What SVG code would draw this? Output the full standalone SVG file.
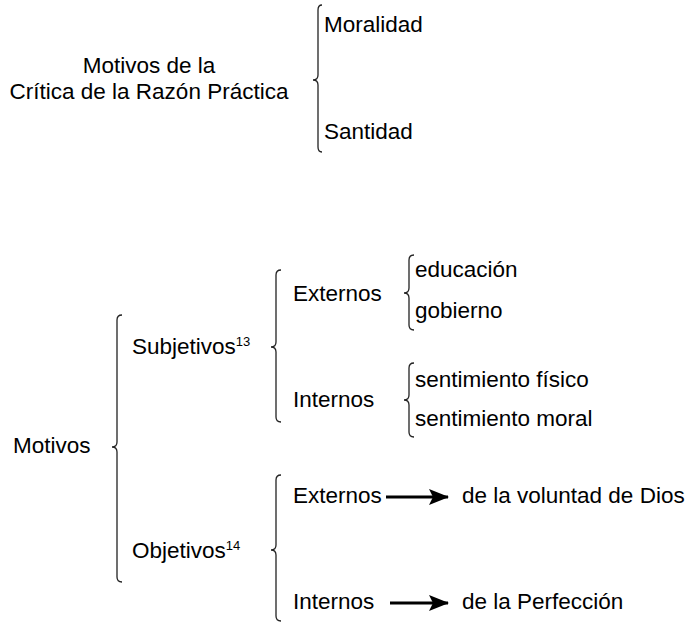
<svg xmlns="http://www.w3.org/2000/svg" width="687" height="625" viewBox="0 0 687 625">
<defs>
<style>
text{font-family:"Liberation Sans",Arial,sans-serif;font-size:22.5px;fill:#000}
.sup{font-size:13px}
.brace{fill:none;stroke:#222;stroke-width:1.3}
.arrow{stroke:#000;stroke-width:3;fill:none}
</style>
<marker id="ah" markerWidth="20" markerHeight="16" refX="19" refY="8" orient="auto" markerUnits="userSpaceOnUse">
<path d="M0,0 L20,8 L0,16 L4,8 Z" fill="#000"/>
</marker>
</defs>
<rect width="687" height="625" fill="#fff"/>
<g id="braces">
<path class="brace" d="M322,5 Q318,5 318,10 L318,75 Q318,80 313,80 Q318,80 318,85 L318,147 Q318,152 322,152"/>
<path class="brace" d="M122,315 Q117,315 117,320 L117,442 Q117,447 112,447 Q117,447 117,452 L117,577 Q117,582 122,582"/>
<path class="brace" d="M281,270 Q276,270 276,275 L276,342 Q276,347 271,347 Q276,347 276,352 L276,417 Q276,422 281,422"/>
<path class="brace" d="M414,255 Q409,255 409,260 L409,288 Q409,293 404,293 Q409,293 409,298 L409,325 Q409,330 414,330"/>
<path class="brace" d="M414,363 Q409,363 409,368 L409,395 Q409,400 404,400 Q409,400 409,405 L409,432 Q409,437 414,437"/>
<path class="brace" d="M281,475 Q276,475 276,480 L276,545 Q276,550 271,550 Q276,550 276,555 L276,616 Q276,621 281,621"/>
</g>
<g id="connectors">
<line class="arrow" x1="386" y1="497" x2="448" y2="497" marker-end="url(#ah)"/>
<line class="arrow" x1="390" y1="603" x2="448" y2="603" marker-end="url(#ah)"/>
</g>
<g id="n-title"><text x="149" y="73" text-anchor="middle">Motivos de la</text><text x="149" y="99" text-anchor="middle">Crítica de la Razón Práctica</text></g>
<g id="n-moralidad"><text x="324" y="32">Moralidad</text></g>
<g id="n-santidad"><text x="324" y="139">Santidad</text></g>
<g id="n-motivos"><text x="13" y="453">Motivos</text></g>
<g id="n-subjetivos"><text x="132" y="354">Subjetivos<tspan class="sup" dy="-8">13</tspan></text></g>
<g id="n-objetivos"><text x="132" y="558">Objetivos<tspan class="sup" dy="-8">14</tspan></text></g>
<g id="n-sub-externos"><text x="293" y="301">Externos</text></g>
<g id="n-sub-internos"><text x="293" y="407">Internos</text></g>
<g id="n-educacion"><text x="415" y="277">educación</text></g>
<g id="n-gobierno"><text x="415" y="318">gobierno</text></g>
<g id="n-fisico"><text x="415" y="387">sentimiento físico</text></g>
<g id="n-moral"><text x="415" y="426">sentimiento moral</text></g>
<g id="n-obj-externos"><text x="293" y="503">Externos</text></g>
<g id="n-obj-internos"><text x="293" y="609">Internos</text></g>
<g id="n-dios"><text x="462" y="503">de la voluntad de Dios</text></g>
<g id="n-perfeccion"><text x="462" y="609">de la Perfección</text></g>
</svg>
